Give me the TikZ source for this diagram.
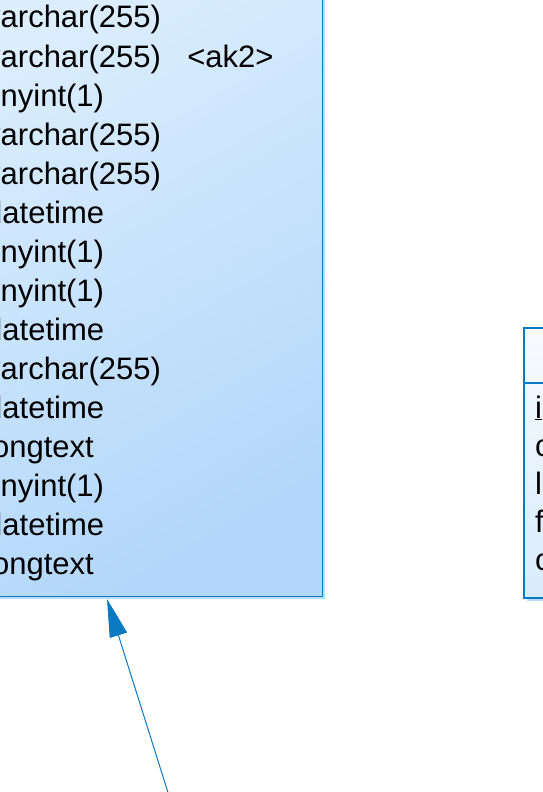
\documentclass[tikz,border=0pt]{standalone}
\usepackage{fontspec}
\setmainfont{Liberation Sans}
\usetikzlibrary{arrows.meta, positioning, calc, shadows}

\definecolor{pdblue}{HTML}{0A7AC2}
\definecolor{tabtop}{HTML}{DCEEFE}
\definecolor{tabbot}{HTML}{B2D7FA}
\definecolor{shadowblue}{HTML}{B8DCFA}
\definecolor{reftop}{HTML}{F8FBFF}
\definecolor{refbot}{HTML}{D8EBFC}

\begin{document}
\begin{tikzpicture}[
        x=1pt, y=-1pt,
        table/.style={rectangle, draw=pdblue, line width=1.5pt, inner sep=0pt, general shadow={fill=shadowblue, shadow xshift=3pt, shadow yshift=-3pt}},
        coltype/.style={inner sep=0pt, font=\fontsize{31}{37}\selectfont, anchor=base west},
        link/.style={-{Triangle[length=38pt, width=18pt]}, line width=1pt, draw=pdblue}
    ]
    \useasboundingbox (0,0) rectangle (543,792);
    \clip (0,0) rectangle (543,792);

    \node (posts) [table, top color=tabtop, bottom color=tabbot, shading angle=30, minimum width=360pt, minimum height=640pt, anchor=south east] at (323,597) {};
    \node (comments) [table, top color=reftop, bottom color=refbot, minimum width=120pt, minimum height=270pt, anchor=north west] at (523,327) {};
    \draw [draw=pdblue, line width=1.5pt] ($(comments.north west)+(0,56)$) -- ($(comments.north east)+(0,56)$);

    \foreach \ctype [count=\i] in {varchar(255), varchar(255), tinyint(1), varchar(255), varchar(255), datetime, tinyint(1), tinyint(1), datetime, varchar(255), datetime, longtext, tinyint(1), datetime, longtext}
        \node (t\i) [coltype] at (-15, {28+39*(\i-1)}) {\ctype};
    \node (ak2) [coltype, base right=26pt of t2] {<ak2>};

    \foreach \col [count=\i] in {\underline{i}, c, l, f, c}
        \node (k\i) [coltype] at (535, {418+38*(\i-1)}) {\col};

    \coordinate (src) at (171,802);
    \draw [link] (src) -- ($(posts.south east)+(-216,2)$);

\end{tikzpicture}
\end{document}
